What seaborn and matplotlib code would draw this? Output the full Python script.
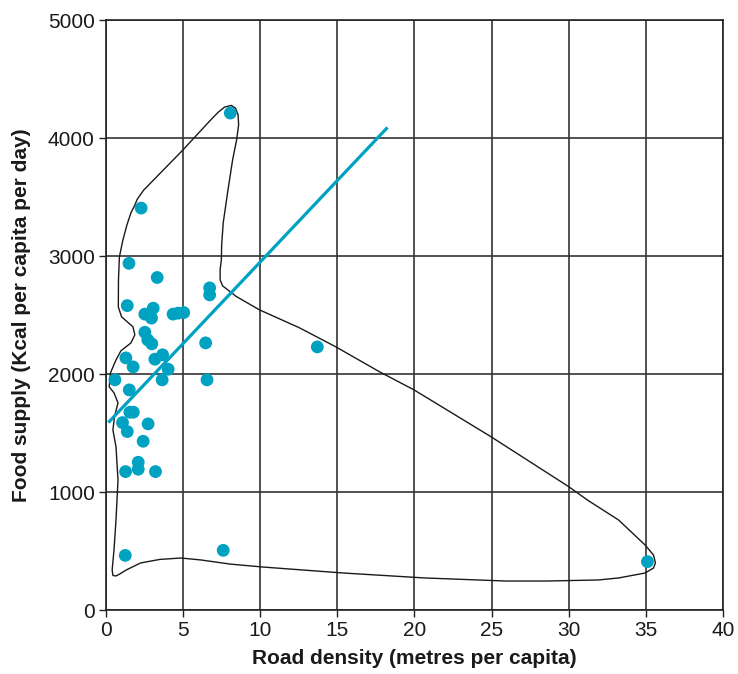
import matplotlib
matplotlib.use("Agg")
import matplotlib.pyplot as plt
import seaborn as sns
import pandas as pd

# Road density (metres per capita) and food supply (kcal per capita per day) by country
road_density = [8.06, 2.28, 1.49, 3.32, 6.72, 6.72, 1.38, 3.06, 2.52, 2.95,
                4.35, 4.67, 5.04, 2.52, 2.71, 2.97, 6.46, 13.70, 1.29, 1.76,
                3.17, 3.67, 4.03, 0.58, 3.64, 6.55, 1.51, 1.55, 1.77, 1.07,
                1.38, 2.73, 2.41, 2.09, 2.09, 1.27, 3.21, 1.25, 7.60, 35.10]
food_supply = [4212, 3407, 2939, 2819, 2731, 2672, 2581, 2559, 2509, 2475,
               2509, 2517, 2522, 2355, 2291, 2257, 2265, 2231, 2138, 2062,
               2127, 2164, 2042, 1952, 1952, 1952, 1867, 1678, 1678, 1590,
               1514, 1579, 1432, 1254, 1195, 1175, 1175, 465, 508, 412]

# Trend line end points
trend_x = [0.15, 18.25]
trend_y = [1590, 4090]

# Hand-drawn envelope around the observations
envelope_x = [8.13, 7.69, 7.26, 6.72, 5.00, 2.45, 2.20, 2.02, 1.86, 1.62, 1.36, 1.10,
              0.87, 0.81, 0.80, 1.01, 1.75, 1.87, 1.62, 0.97, 0.65, 0.29,
              0.21, 0.52, 0.78, 0.55, 0.45, 0.65, 0.78, 0.65, 0.52, 0.40,
              0.45, 0.65, 0.90, 1.32, 2.24, 3.49, 4.85, 6.18, 8.02, 10.13,
              15.38, 20.66, 25.92, 28.55, 31.93, 33.23, 34.95, 35.49, 35.62, 35.49,
              34.95, 33.23, 31.20, 29.99, 24.95, 19.97, 17.71, 14.91, 12.54, 9.95,
              8.45, 7.89, 7.56, 7.40, 7.40, 7.48, 7.50, 7.60, 7.91, 8.21,
              8.47, 8.60, 8.56, 8.40, 8.13]
envelope_y = [4276, 4263, 4217, 4144, 3901, 3560, 3515, 3480, 3430, 3367, 3265, 3138,
              2994, 2799, 2570, 2486, 2401, 2333, 2265, 2198, 2121, 2011,
              1892, 1842, 1757, 1638, 1528, 1384, 1104, 765, 511, 342,
              295, 291, 308, 342, 401, 431, 443, 426, 392, 367,
              316, 274, 248, 248, 257, 274, 316, 358, 401, 469,
              553, 765, 935, 1048, 1471, 1867, 2022, 2231, 2393, 2545,
              2658, 2715, 2748, 2799, 2884, 2969, 3096, 3282, 3562, 3816,
              3986, 4113, 4198, 4253, 4276]

x_ticks = [0, 5, 10, 15, 20, 25, 30, 35, 40]
y_ticks = [0, 1000, 2000, 3000, 4000, 5000]

TEAL = "#00A2C2"

sns.set_theme(style="white")
plt.rcParams["font.family"] = ["Liberation Sans", "DejaVu Sans"]

df = pd.DataFrame({"road": road_density, "food": food_supply})

fig = plt.figure(figsize=(7.38, 6.74), dpi=100)
ax = fig.add_axes([0.1436, 0.0945, 0.8361, 0.8758])

ax.plot(envelope_x, envelope_y, color="#1a1a1a", lw=1.0, zorder=2,
        solid_joinstyle="round")
ax.plot(trend_x, trend_y, color=TEAL, lw=2.3, solid_capstyle="butt", zorder=3)
sns.scatterplot(data=df, x="road", y="food", ax=ax, color=TEAL, s=85,
                edgecolor="none", linewidth=0, zorder=4)

ax.set_xlim(0, 40)
ax.set_ylim(0, 5000)
ax.set_xticks(x_ticks)
ax.set_yticks(y_ticks)
ax.grid(True, color="#333333", lw=1.2, zorder=0)
ax.set_axisbelow(True)
for sp in ax.spines.values():
    sp.set_color("#222222")
    sp.set_linewidth(1.2)

ax.tick_params(axis="both", which="major", direction="out", length=5, width=1.0,
               color="#222222", labelsize=15, labelcolor="#1a1a1a", pad=3,
               bottom=True, left=True)

ax.set_xlabel("Road density (metres per capita)", fontsize=15, fontweight="bold",
              color="#1a1a1a")
ax.set_ylabel("Food supply (Kcal per capita per day)", fontsize=15, fontweight="bold",
              color="#1a1a1a")
ax.xaxis.set_label_coords(0.5, -0.066)
ax.yaxis.set_label_coords(-0.121, 0.5)

fig.savefig("out.png", dpi=100)
